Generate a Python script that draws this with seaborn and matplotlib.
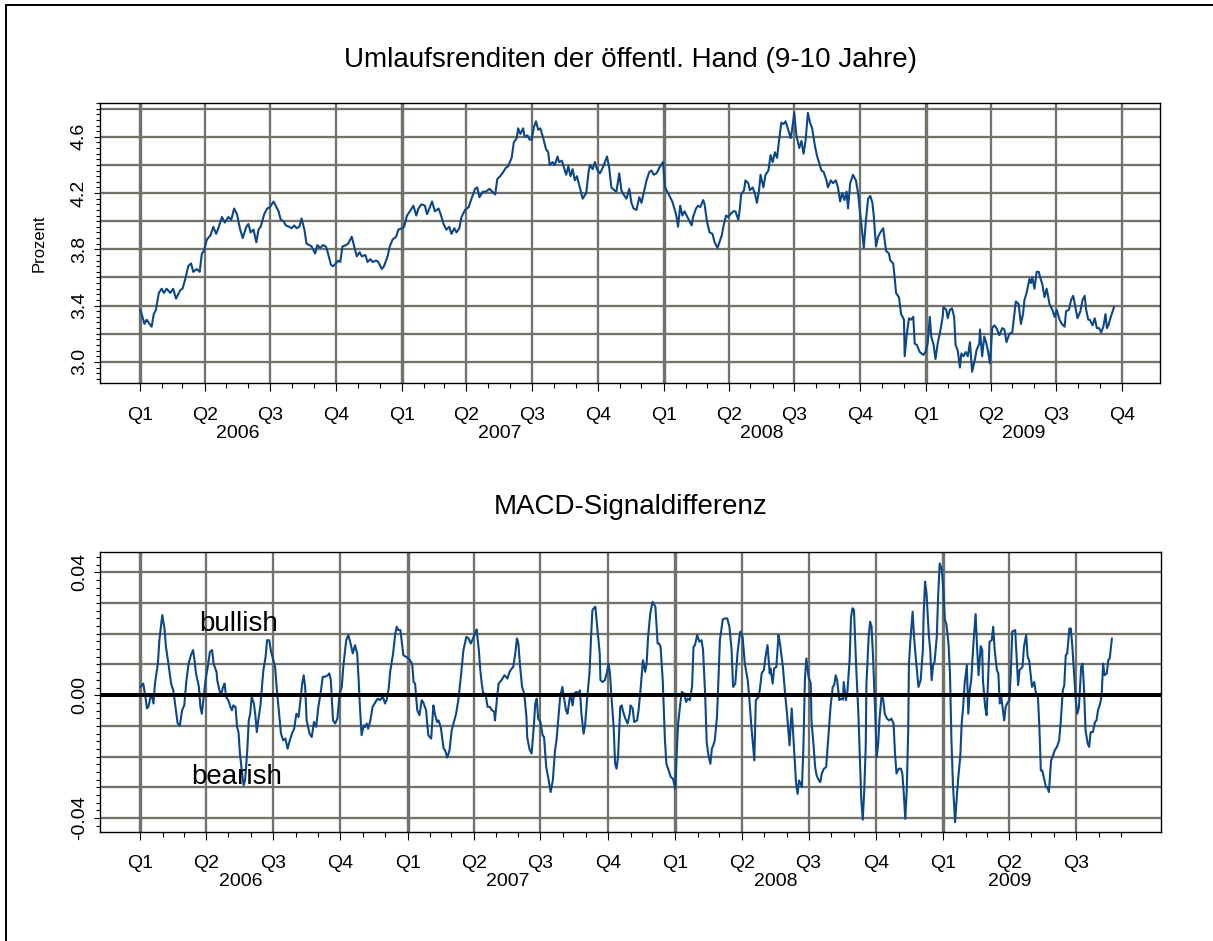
import numpy as np
import pandas as pd
import matplotlib
matplotlib.use("Agg")
import matplotlib.pyplot as plt
import seaborn as sns
from matplotlib.lines import Line2D
from matplotlib.ticker import FixedLocator, MultipleLocator, FuncFormatter

# ---------------- data: (day offset from 2006-01-01, value) ----------------
yield_2006 = [(0,3.37),(2,3.34),(6,3.27),(9,3.30),(13,3.27),(16,3.25),(19,3.34),(22,3.37),(26,3.49),(30,3.52),
    (33,3.49),(37,3.52),(42,3.49),(46,3.52),(50,3.45),(56,3.51),(59,3.52),(63,3.59),(67,3.68),(71,3.70),
    (74,3.64),(79,3.66),(83,3.64),(86,3.77),(89,3.79),(93,3.87),(98,3.90),(102,3.96),(106,3.91),(109,3.95),
    (114,4.03),(118,3.99),(123,4.03),(127,4.01),(131,4.09),(135,4.05),(139,3.95),(143,3.88),(148,3.96),(151,3.98),
    (154,3.92),(158,3.94),(162,3.85),(165,3.94),(168,3.96),(173,4.05),(177,4.09),(181,4.10),(186,4.14),(190,4.10),
    (193,4.07),(196,4.01),(200,4.00),(203,3.97),(208,3.96),(211,3.95),(215,3.97),(218,3.95),(222,3.96),(225,4.02),
    (229,3.94),(232,3.84),(236,3.83),(239,3.82),(244,3.77),(247,3.83),(251,3.81),(255,3.83),(259,3.82),(262,3.77),
    (266,3.69),(269,3.68),(273,3.70),(276,3.72),(279,3.71),(282,3.82),(287,3.83),(290,3.84),(295,3.89),(298,3.83),
    (302,3.75),(306,3.78),(309,3.75),(314,3.76),(317,3.71),(321,3.73),(324,3.71),(329,3.72),(332,3.71),(337,3.66),
    (340,3.68),(345,3.75),(348,3.82),(352,3.87),(357,3.89),(360,3.94),(365,3.95)]
yield_2007 = [(368,3.96),(372,4.04),(376,4.07),(381,4.11),(385,4.04),(388,4.09),(392,4.12),(397,4.11),(400,4.05),
    (404,4.10),(407,4.14),(411,4.07),(416,4.09),(419,4.05),(423,3.98),(427,3.94),(431,3.96),(434,3.91),(438,3.95),
    (441,3.92),(445,3.95),(448,4.03),(453,4.08),(458,4.10),(462,4.16),(467,4.23),(470,4.24),(473,4.17),(478,4.21),
    (482,4.21),(487,4.23),(491,4.21),(495,4.19),(498,4.30),(502,4.32),(505,4.34),(510,4.38),(513,4.39),(518,4.45),
    (521,4.56),(525,4.59),(527,4.66),(530,4.62),(534,4.66),(536,4.60),(540,4.61),(543,4.58),(546,4.58),(549,4.67),
    (552,4.71),(555,4.65),(558,4.66),(562,4.59),(566,4.51),(569,4.49),(571,4.40),(575,4.42),(578,4.40),(582,4.46),
    (584,4.42),(588,4.43),(591,4.38),(594,4.33),(597,4.39),(600,4.32),(603,4.37),(606,4.29),(609,4.32),(613,4.24),
    (617,4.16),(622,4.20),(625,4.34),(627,4.40),(631,4.37),(634,4.42),(637,4.37),(641,4.34),(645,4.38),(648,4.42),
    (651,4.46),(654,4.38),(657,4.24),(661,4.22),(664,4.21),(668,4.34),(671,4.22),(674,4.19),(678,4.16),(682,4.23),
    (685,4.13),(688,4.09),(692,4.08),(696,4.17),(699,4.13),(702,4.20),(706,4.29),(710,4.35),(713,4.36),(716,4.33),
    (720,4.34),(725,4.39),(729,4.42)]
yield_2008 = [(732,4.24),(735,4.21),(739,4.17),(742,4.14),(746,4.07),(748,4.03),(750,3.96),(753,4.11),(756,4.04),
    (759,4.07),(763,4.03),(765,4.01),(769,3.97),(771,4.03),(775,4.09),(778,4.11),(781,4.10),(785,4.15),(787,4.12),
    (790,4.01),(792,3.96),(794,3.92),(798,3.91),(801,3.85),(805,3.81),(807,3.84),(811,3.90),(814,3.98),(817,4.04),
    (820,4.03),(823,4.05),(827,4.07),(830,4.07),(834,4.01),(836,4.08),(838,4.19),(842,4.22),(844,4.29),(848,4.27),
    (850,4.22),(854,4.24),(857,4.20),(860,4.13),(863,4.22),(865,4.33),(869,4.24),(872,4.33),(876,4.36),(879,4.47),
    (882,4.42),(885,4.49),(888,4.45),(891,4.58),(894,4.70),(897,4.69),(900,4.71),(903,4.66),(907,4.59),(909,4.65),
    (912,4.77),(915,4.61),(919,4.52),(922,4.57),(925,4.48),(928,4.58),(931,4.77),(934,4.70),(937,4.66),(941,4.53),
    (944,4.46),(947,4.41),(950,4.36),(953,4.35),(957,4.29),(959,4.24),(963,4.29),(966,4.27),(970,4.29),(973,4.24),
    (976,4.14),(979,4.20),(982,4.15),(985,4.21),(987,4.09),(990,4.27),(994,4.33),(998,4.29),(1001,4.20),(1003,4.10),
    (1006,3.96),(1009,3.81),(1012,4.01),(1015,4.16),(1018,4.18),(1021,4.13),(1023,4.03),(1026,3.82),(1029,3.89),
    (1032,3.92),(1036,3.95),(1038,3.87),(1040,3.79),(1044,3.77),(1046,3.72),(1050,3.70),(1052,3.60),(1054,3.49),
    (1058,3.46),(1061,3.34),(1065,3.30),(1066,3.04),(1069,3.20),(1072,3.31),(1075,3.30),(1078,3.32),(1080,3.13),
    (1083,3.12),(1087,3.07),(1092,3.05)]
yield_2009 = [(1095,3.07),(1098,3.13),(1101,3.32),(1103,3.18),(1106,3.13),(1109,3.02),(1112,3.13),(1116,3.23),
    (1119,3.32),(1120,3.39),(1124,3.37),(1126,3.31),(1129,3.37),(1132,3.38),(1135,3.32),(1137,3.12),(1140,3.08),
    (1143,2.96),(1145,3.06),(1148,3.04),(1151,3.07),(1154,3.04),(1157,3.14),(1160,2.93),(1164,3.02),(1166,3.08),
    (1170,3.13),(1171,3.23),(1174,3.04),(1177,3.18),(1180,3.13),(1182,3.08),(1185,2.99),(1188,3.24),(1191,3.26),
    (1194,3.24),(1198,3.19),(1202,3.24),(1205,3.23),(1208,3.14),(1212,3.20),(1216,3.21),(1219,3.34),(1221,3.43),
    (1225,3.41),(1228,3.27),(1231,3.34),(1233,3.44),(1236,3.49),(1240,3.59),(1242,3.56),(1244,3.60),(1247,3.52),
    (1250,3.64),(1253,3.64),(1255,3.60),(1258,3.55),(1261,3.46),(1264,3.52),(1268,3.41),(1272,3.37),(1275,3.32),
    (1278,3.37),(1282,3.30),(1285,3.27),(1289,3.25),(1291,3.36),(1295,3.37),(1298,3.44),(1301,3.47),(1304,3.39),
    (1307,3.31),(1311,3.36),(1314,3.44),(1317,3.47),(1319,3.37),(1322,3.30),(1324,3.30),(1328,3.26),(1331,3.31),
    (1334,3.24),(1337,3.24),(1340,3.21),(1343,3.25),(1346,3.34),(1348,3.24),(1350,3.26),(1354,3.33),(1358,3.39)]

macd_2006 = [(0,0.0027),(4,0.0038),(7,-0.0005),(9,-0.0043),(11,-0.0038),(14,-0.0005),(16,0.0),(18,-0.0027),
    (20,0.0038),(24,0.0103),(26,0.0179),(30,0.0261),(33,0.0217),(35,0.0158),(39,0.0092),(42,0.0038),(45,0.0016),
    (48,-0.0038),(51,-0.0092),(54,-0.0098),(57,-0.0049),(60,-0.0033),(63,0.0049),(66,0.0103),(69,0.0130),(72,0.0147),
    (74,0.0114),(76,0.0071),(80,0.0027),(82,-0.0038),(84,-0.0060),(86,-0.0016),(89,0.0049),(92,0.0092),(95,0.0141),
    (98,0.0147),(100,0.0103),(104,0.0076),(105,0.0049),(108,0.0016),(110,0.0),(113,0.0027),(115,0.0038),(117,-0.0005),
    (120,-0.0016),(123,-0.0038),(125,-0.0049),(127,-0.0033),(130,-0.0038),(132,-0.0103),(134,-0.0120),(136,-0.0190),
    (139,-0.0255),(141,-0.0293),(143,-0.0277),(146,-0.0179),(148,-0.0082),(150,-0.0060),(152,-0.0005),(155,-0.0027),
    (157,-0.0065),(159,-0.0120),(161,-0.0082),(164,-0.0033),(166,0.0027),(168,0.0082),(171,0.0125),(173,0.0179),
    (176,0.0179),(178,0.0147),(181,0.0120),(184,0.0092),(186,0.0027),(189,-0.0049),(192,-0.0125),(195,-0.0147),
    (198,-0.0141),(201,-0.0174),(204,-0.0147),(207,-0.0125),(210,-0.0109),(213,-0.0060),(216,-0.0071),(218,-0.0027),
    (221,0.0038),(223,0.0065),(225,0.0027),(227,-0.0082),(231,-0.0125),(234,-0.0136),(237,-0.0087),(240,-0.0103),
    (243,-0.0038),(246,0.0005),(249,0.0060),(252,0.0060),(256,0.0065),(258,0.0071),(260,0.0049),(263,-0.0082),
    (266,-0.0092),(269,-0.0076),(272,0.0005),(275,0.0027),(277,0.0092),(281,0.0179),(284,0.0196),(287,0.0168),
    (290,0.0136),(293,0.0163),(296,0.0136),(298,0.0049),(300,-0.0049),(302,-0.0130),(305,-0.0098),(307,-0.0103),
    (309,-0.0092),(311,-0.0109),(314,-0.0082),(317,-0.0038),(321,-0.0022),(324,-0.0011),(327,-0.0016),(331,-0.0005),
    (334,-0.0027),(336,-0.0016),(339,0.0022),(341,0.0076),(345,0.0136),(348,0.0201),(350,0.0223),(352,0.0212),
    (355,0.0212),(359,0.0130),(366,0.0120)]
macd_2007 = [(371,0.0103),(373,0.0043),(375,0.0038),(378,-0.0049),(381,-0.0065),(384,-0.0016),(386,-0.0022),
    (390,-0.0049),(393,-0.0130),(397,-0.0141),(400,-0.0033),(402,-0.0060),(405,-0.0087),(407,-0.0082),(410,-0.0103),
    (414,-0.0174),(416,-0.0179),(419,-0.0203),(422,-0.0179),(425,-0.0114),(428,-0.0087),(431,-0.0060),(434,-0.0016),
    (437,0.0049),(441,0.0147),(445,0.0190),(448,0.0185),(451,0.0168),(454,0.0185),(457,0.0201),(459,0.0214),
    (462,0.0147),(464,0.0082),(466,0.0038),(468,0.0005),(471,0.0005),(474,-0.0038),(477,-0.0038),(480,-0.0049),
    (483,-0.0054),(484,-0.0082),(487,-0.0005),(489,0.0038),(493,0.0049),(497,0.0065),(499,0.0060),(501,0.0054),
    (504,0.0076),(507,0.0087),(509,0.0092),(512,0.0141),(514,0.0185),(516,0.0168),(518,0.0103),(521,0.0027),
    (524,0.0005),(527,-0.0071),(528,-0.0136),(531,-0.0174),(534,-0.0190),(537,-0.0103),(539,-0.0027),(541,-0.0011),
    (543,-0.0076),(546,-0.0087),(549,-0.0130),(551,-0.0136),(554,-0.0234),(557,-0.0272),(560,-0.0315),(563,-0.0277),
    (566,-0.0179),(568,-0.0147),(571,-0.0060),(573,-0.0005),(576,0.0027),(578,-0.0005),(581,-0.0049),(583,-0.0060),
    (586,-0.0011),(587,0.0005),(590,-0.0033),(592,0.0005),(595,0.0011),(598,0.0005),(600,0.0016),(602,-0.0060),
    (605,-0.0125),(607,-0.0098),(610,-0.0005),(613,0.0071),(615,0.0179),(617,0.0277),(619,0.0283),(621,0.0288),
    (624,0.0212),(627,0.0136),(628,0.0049),(631,0.0043),(634,0.0049),(637,0.0076),(639,0.0103),(641,0.0071),
    (643,-0.0005),(646,-0.0103),(648,-0.0223),(650,-0.0239),(652,-0.0201),(655,-0.0038),(657,-0.0033),(659,-0.0054),
    (662,-0.0076),(665,-0.0092),(668,-0.0060),(669,-0.0033),(672,-0.0043),(674,-0.0087),(678,-0.0082),(680,-0.0049),
    (683,0.0027),(686,0.0114),(689,0.0076),(691,0.0103),(693,0.0190),(696,0.0266),(699,0.0304),(703,0.0288),
    (706,0.0168),(708,0.0168),(710,0.0158),(713,0.0049),(716,-0.0147),(718,-0.0223),(721,-0.0245),(724,-0.0266),
    (727,-0.0272),(730,-0.0304)]
macd_2008 = [(732,-0.0190),(734,-0.0092),(737,-0.0027),(739,0.0011),(742,0.0005),(745,-0.0022),(747,-0.0011),
    (750,-0.0016),(753,0.0027),(755,0.0158),(757,0.0163),(760,0.0196),(763,0.0174),(766,0.0179),(768,0.0147),
    (771,-0.0005),(773,-0.0152),(775,-0.0190),(778,-0.0223),(780,-0.0174),(782,-0.0163),(784,-0.0147),(787,-0.0071),
    (789,0.0049),(791,0.0179),(795,0.0247),(798,0.0250),(801,0.0250),(804,0.0223),(807,0.0147),(809,0.0027),
    (812,0.0038),(815,0.0136),(818,0.0196),(819,0.0207),(822,0.0190),(825,0.0103),(829,0.0049),(831,-0.0005),
    (834,-0.0103),(838,-0.0212),(840,-0.0016),(844,-0.0005),(846,0.0027),(848,0.0071),(851,0.0082),(854,0.0136),
    (856,0.0163),(859,0.0071),(860,0.0087),(863,0.0038),(865,0.0087),(868,0.0092),(871,0.0196),(873,0.0168),
    (877,0.0092),(880,0.0005),(883,-0.0071),(886,-0.0163),(889,-0.0043),(892,-0.0168),(895,-0.0288),(897,-0.0321),
    (899,-0.0277),(903,-0.0299),(905,-0.0168),(907,0.0049),(909,0.0120),(912,0.0060),(915,0.0038),(916,-0.0082),
    (919,-0.0168),(921,-0.0234),(923,-0.0261),(925,-0.0272),(928,-0.0283),(930,-0.0255),(933,-0.0239),(936,-0.0234),
    (939,-0.0136),(942,-0.0038),(945,0.0027),(947,0.0033),(949,0.0065),(951,0.0049),(954,-0.0016),(956,-0.0011),
    (959,-0.0014),(960,0.0043),(963,-0.0016),(965,0.0011),(968,0.0114),(970,0.0255),(972,0.0283),(974,0.0277),
    (977,0.0092),(980,-0.0060),(982,-0.0201),(984,-0.0342),(986,-0.0405),(988,-0.0310),(990,-0.0168),(991,0.0038),
    (994,0.0190),(996,0.0239),(998,0.0223),(1000,0.0125),(1003,-0.0060),(1005,-0.0201),(1007,-0.0158),(1009,-0.0071),
    (1012,0.0005),(1014,-0.0016),(1016,-0.0060),(1019,-0.0076),(1022,-0.0082),(1025,-0.0076),(1028,-0.0092),
    (1030,-0.0190),(1032,-0.0255),(1035,-0.0239),(1038,-0.0239),(1040,-0.0255),(1042,-0.0321),(1044,-0.0402),
    (1046,-0.0310),(1048,-0.0114),(1049,0.0103),(1051,0.0179),(1054,0.0272),(1056,0.0190),(1059,0.0103),
    (1062,0.0027),(1065,0.0049),(1068,0.0147),(1069,0.0255),(1071,0.0370),(1073,0.0332),(1076,0.0201),(1078,0.0147),
    (1080,0.0049),(1082,0.0098),(1084,0.0109),(1087,0.0190),(1089,0.0332),(1091,0.0429)]
macd_2009 = [(1094,0.0408),(1096,0.0342),(1098,0.0245),(1100,0.0233),(1103,0.0168),(1105,0.0071),(1107,-0.0147),
    (1109,-0.0288),(1112,-0.0413),(1114,-0.0342),(1116,-0.0277),(1119,-0.0201),(1121,-0.0092),(1123,-0.0038),
    (1125,0.0038),(1128,0.0098),(1130,-0.0060),(1132,0.0016),(1134,0.0049),(1137,0.0168),(1140,0.0264),(1142,0.0158),
    (1144,0.0065),(1147,0.0160),(1149,0.0147),(1150,0.0049),(1153,-0.0038),(1155,-0.0065),(1157,0.0049),(1159,0.0174),
    (1162,0.0179),(1164,0.0223),(1166,0.0147),(1169,0.0082),(1171,0.0071),(1173,-0.0027),(1175,-0.0005),(1179,-0.0082),
    (1181,-0.0038),(1183,-0.0027),(1186,-0.0016),(1188,0.0071),(1190,0.0207),(1194,0.0212),(1196,0.0125),(1198,0.0033),
    (1200,0.0082),(1204,0.0092),(1206,0.0158),(1209,0.0196),(1211,0.0125),(1213,0.0114),(1215,0.0071),(1217,0.0027),
    (1220,0.0043),(1222,0.0011),(1225,-0.0005),(1227,-0.0103),(1229,-0.0245),(1231,-0.0245),(1234,-0.0277),
    (1236,-0.0299),(1238,-0.0299),(1240,-0.0315),(1243,-0.0212),(1245,-0.0201),(1248,-0.0179),(1251,-0.0168),
    (1254,-0.0147),(1256,-0.0092),(1259,0.0016),(1261,0.0033),(1263,0.0130),(1265,0.0136),(1268,0.0217),(1270,0.0217),
    (1272,0.0158),(1275,0.0049),(1277,-0.0027),(1279,-0.0060),(1281,-0.0038),(1284,0.0092),(1286,0.0103),(1288,0.0016),
    (1290,-0.0114),(1293,-0.0158),(1295,-0.0168),(1297,-0.0120),(1300,-0.0120),(1303,-0.0087),(1305,-0.0082),
    (1307,-0.0049),(1310,-0.0027),(1312,0.0),(1314,0.0103),(1316,0.0065),(1319,0.0071),(1321,0.0114),(1323,0.0120),
    (1326,0.0185)]

title_top = "Umlaufsrenditen der öffentl. Hand (9-10 Jahre)"
title_bottom = "MACD-Signaldifferenz"
ylabel_top = "Prozent"
yticks_top = [3.0, 3.4, 3.8, 4.2, 4.6]
ygrid_top = [3.0, 3.2, 3.4, 3.6, 3.8, 4.0, 4.2, 4.4, 4.6, 4.8]
yticks_bottom = [-0.04, 0.0, 0.04]
ygrid_bottom = [-0.04, -0.03, -0.02, -0.01, 0.0, 0.01, 0.02, 0.03, 0.04]
annot_text = [("bullish", 134, 0.0231), ("bearish", 132, -0.0267)]

BASE = pd.Timestamp("2006-01-01")
LINE = "#0C4788"
GRID = "#727269"
W, H = 1213, 941
PT = 0.72  # points per pixel at dpi 100

sns.set_style("white")
plt.rcParams["font.family"] = ["Liberation Sans", "DejaVu Sans"]
plt.rcParams["text.color"] = "black"
plt.rcParams["xtick.color"] = "black"
plt.rcParams["ytick.color"] = "black"
plt.rcParams["axes.labelcolor"] = "black"

fig = plt.figure(figsize=(W / 100, H / 100), dpi=100)


def rect(l, t, r, b):
    return [l / W, 1 - b / H, (r - l) / W, (b - t) / H]


ax1 = fig.add_axes(rect(100, 103, 1160, 383))
ax2 = fig.add_axes(rect(100, 552, 1161, 832))

df1 = pd.DataFrame(yield_2006 + yield_2007 + yield_2008 + yield_2009, columns=["day", "value"])
df2 = pd.DataFrame(macd_2006 + macd_2007 + macd_2008 + macd_2009, columns=["day", "value"])

sns.lineplot(data=df1, x="day", y="value", ax=ax1, color=LINE, lw=1.5, estimator=None, sort=False, zorder=3)
sns.lineplot(data=df2, x="day", y="value", ax=ax2, color=LINE, lw=1.5, estimator=None, sort=False, zorder=3)


def style_x(ax, last_day, xlim):
    end = BASE + pd.Timedelta(days=int(last_day))
    months = pd.date_range(BASE, end + pd.offsets.MonthBegin(1), freq="MS")
    mdays = [(m - BASE).days for m in months]
    quarters = [m for m in months if m.month in (1, 4, 7, 10)]
    qdays = [(q - BASE).days for q in quarters]
    ax.set_xlim(*xlim)
    ax.xaxis.set_major_locator(FixedLocator(qdays))
    ax.xaxis.set_minor_locator(FixedLocator(mdays))
    ax.tick_params(axis="x", which="both", labelbottom=False, bottom=True, direction="out",
                   color="black", width=0.8)
    ax.tick_params(axis="x", which="major", length=8 * PT)
    ax.tick_params(axis="x", which="minor", length=5 * PT)
    for q, d in zip(quarters, qdays):
        lw = 3.4 * PT if q.month == 1 else 2.3 * PT
        ax.axvline(d, color=GRID, lw=lw, zorder=1)
        ax.annotate(f"Q{(q.month - 1) // 3 + 1}", xy=(d, 0), xycoords=("data", "axes fraction"),
                    xytext=(0, -32 * PT), textcoords="offset points", ha="center", va="center",
                    fontsize=14)
    # year label centred on that year's quarter ticks
    for year in sorted(set(q.year for q in quarters)):
        yd = [d for q, d in zip(quarters, qdays) if q.year == year]
        ax.annotate(str(year), xy=(0.5 * (min(yd) + max(yd)), 0), xycoords=("data", "axes fraction"),
                    xytext=(0, -50 * PT), textcoords="offset points", ha="center", va="center",
                    fontsize=14)


def style_y(ax, ylim, majors, grids, minor_step, fmt):
    ax.set_ylim(*ylim)
    ax.yaxis.set_major_locator(FixedLocator(majors))
    ax.yaxis.set_minor_locator(MultipleLocator(minor_step))
    ax.yaxis.set_major_formatter(FuncFormatter(fmt))
    ax.tick_params(axis="y", which="both", left=True, direction="out", color="black", width=0.8)
    ax.tick_params(axis="y", which="major", length=6 * PT, labelsize=14, pad=6 * PT, labelrotation=90)
    ax.tick_params(axis="y", which="minor", length=4 * PT)
    for lbl in ax.get_yticklabels():
        lbl.set_va("center")
    for v in grids:
        ax.axhline(v, color=GRID, lw=2.3 * PT, zorder=1)
    ax.set_xlabel("")
    ax.set_ylabel("")
    for s in ax.spines.values():
        s.set_color("black")
        s.set_linewidth(1.0)
        s.set_zorder(5)


style_x(ax1, df1["day"].max(), (-56, 1422))
style_x(ax2, df2["day"].max(), (-55, 1393))
style_y(ax1, (2.85, 4.84), yticks_top, ygrid_top, 0.04, lambda v, p: f"{v:.1f}")
style_y(ax2, (-0.0445, 0.0466), yticks_bottom, ygrid_bottom, 0.0025,
        lambda v, p: f"{0.0 if abs(v) < 1e-12 else v:.2f}")

ax2.axhline(0, color="black", lw=4 * PT, zorder=4)
for txt, d, v in annot_text:
    ax2.text(d, v, txt, ha="center", va="center", fontsize=20, zorder=6)

fig.text(0.5 * (100 + 1160) / W, 1 - 60 / H, title_top, ha="center", va="center", fontsize=20)
fig.text(0.5 * (100 + 1161) / W, 1 - 507 / H, title_bottom, ha="center", va="center", fontsize=20)
fig.text(39 / W, 1 - 243 / H, ylabel_top, rotation=90, ha="center", va="center", fontsize=12)

# page frame (top and left edges)
fig.add_artist(Line2D([6 / W, 1], [1 - 5 / H, 1 - 5 / H], transform=fig.transFigure, color="black", lw=2 * PT))
fig.add_artist(Line2D([6 / W, 6 / W], [0, 1 - 5 / H], transform=fig.transFigure, color="black", lw=2 * PT))

fig.savefig("out.png", dpi=100)
